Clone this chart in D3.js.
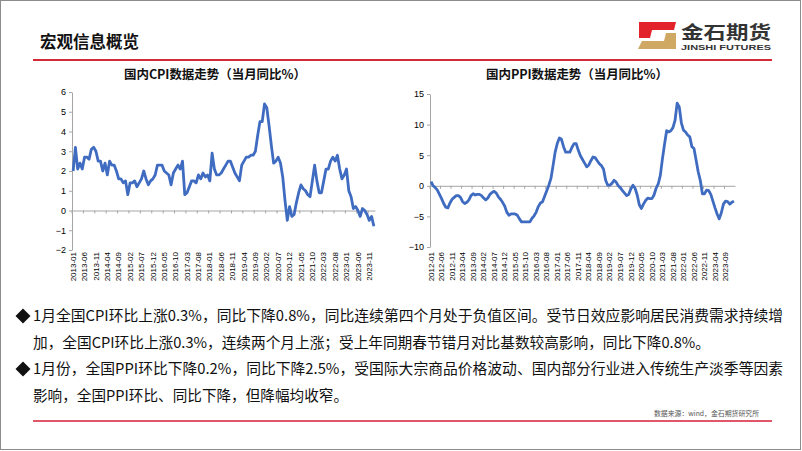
<!DOCTYPE html>
<html><head><meta charset="utf-8">
<script src="https://cdn.jsdelivr.net/npm/d3@7"></script>
<style>html,body{margin:0;padding:0;background:#fff;overflow:hidden}</style>
</head><body><svg id="c" width="802" height="451"></svg>
<script>
// ---------- DATA ----------
const cpiValues = [
  2.0,3.2,2.1,2.4,2.1,2.7,2.7,2.6,3.1,3.2,3.0,2.5,
  2.5,2.0,2.4,1.8,2.5,2.3,2.3,2.0,1.6,1.6,1.4,1.5,
  0.8,1.4,1.4,1.5,1.2,1.4,1.6,2.0,1.6,1.3,1.5,1.6,
  1.8,2.3,2.3,2.3,2.0,1.9,1.8,1.3,1.9,2.1,2.3,2.1,
  2.5,0.8,0.9,1.2,1.5,1.5,1.4,1.8,1.6,1.9,1.7,1.8,
  1.5,2.9,2.1,1.8,1.8,1.9,2.1,2.3,2.5,2.5,2.2,1.9,
  1.7,1.5,2.3,2.5,2.7,2.7,2.8,2.8,3.0,3.8,4.5,4.5,
  5.4,5.2,4.3,3.3,2.4,2.5,2.7,2.4,1.7,0.5,-0.5,0.2,
  -0.3,-0.2,0.4,0.9,1.3,1.1,1.0,0.8,0.7,1.5,2.3,1.5,
  0.9,0.9,1.5,2.1,2.1,2.5,2.7,2.5,2.8,2.1,1.6,1.8,
  2.1,1.0,0.7,0.1,0.2,0.0,-0.3,0.1,0.0,-0.2,-0.5,-0.3,
  -0.8
];
const ppiValues = [
  0.7,0.0,-0.3,-0.7,-1.4,-2.1,-2.9,-3.5,-3.6,-2.8,-2.2,-1.9,
  -1.6,-1.6,-1.9,-2.6,-2.9,-2.7,-2.3,-1.6,-1.3,-1.5,-1.4,-1.4,
  -1.6,-2.0,-2.3,-2.0,-1.4,-1.1,-0.9,-1.2,-1.8,-2.2,-2.7,-3.3,
  -4.3,-4.8,-4.6,-4.6,-4.6,-4.8,-5.4,-5.9,-5.9,-5.9,-5.9,-5.9,
  -5.3,-4.9,-4.3,-3.4,-2.8,-2.6,-1.7,-0.8,0.1,1.2,3.3,5.5,
  6.9,7.8,7.6,6.4,5.5,5.5,5.5,6.3,6.9,6.9,5.8,4.9,
  4.3,3.7,3.1,3.4,4.1,4.7,4.6,4.1,3.6,3.3,2.7,0.9,
  0.1,0.1,0.4,0.9,0.6,0.0,-0.3,-0.8,-1.2,-1.6,-1.4,-0.5,
  0.1,-0.4,-1.5,-3.1,-3.7,-3.0,-2.4,-2.0,-2.1,-2.1,-1.5,-0.4,
  0.3,1.7,4.4,6.8,9.0,8.8,9.0,9.5,10.7,13.5,12.9,10.3,
  9.1,8.8,8.3,8.0,6.4,6.1,4.2,2.3,0.9,-1.3,-1.3,-0.7,
  -0.8,-1.4,-2.5,-3.6,-4.6,-5.4,-4.4,-3.0,-2.5,-2.6,-3.0,-2.7,
  -2.5
];
function monthsFrom(y0, n) {
  const out = [];
  for (let i = 0; i < n; i++) {
    const y = y0 + Math.floor(i / 12), m = i % 12 + 1;
    out.push(y + "-" + String(m).padStart(2, "0"));
  }
  return out;
}
const cpiMonths = monthsFrom(2013, cpiValues.length);
const ppiMonths = monthsFrom(2012, ppiValues.length);
const cpiTickLabels = cpiMonths.filter((d, i) => i % 5 === 0);
const ppiTickLabels = ppiMonths.filter((d, i) => i % 5 === 0);
const cpiYTicks = [-2, -1, 0, 1, 2, 3, 4, 5, 6];
const ppiYTicks = [-10, -5, 0, 5, 10, 15];
const pageTitle = "宏观信息概览";
const cpiTitle = "国内CPI数据走势（当月同比%）";
const ppiTitle = "国内PPI数据走势（当月同比%）";
const bodyLines = [
  "1月全国CPI环比上涨0.3%，同比下降0.8%，同比连续第四个月处于负值区间。受节日效应影响居民消费需求持续增",
  "加，全国CPI环比上涨0.3%，连续两个月上涨；受上年同期春节错月对比基数较高影响，同比下降0.8%。",
  "1月份，全国PPI环比下降0.2%，同比下降2.5%，受国际大宗商品价格波动、国内部分行业进入传统生产淡季等因素",
  "影响，全国PPI环比、同比下降，但降幅均收窄。"
];
const bulletLines = [true, false, true, false];
const sourceText = "数据来源：wind，金石期货研究所";

// ---------- DRAW ----------
const svg = d3.select("#c");
const CJK = "'Noto Sans CJK SC','Noto Sans',sans-serif";
const LAT = "'Liberation Sans',Arial,sans-serif";

svg.append("rect").attr("x", 0.5).attr("y", 0.5).attr("width", 800).attr("height", 449)
  .attr("fill", "#fff").attr("stroke", "#8c8c8c");

svg.append("text").attr("x", 40).attr("y", 48).text(pageTitle)
  .attr("font-family", CJK).attr("font-weight", "bold").attr("font-size", 16.5)
  .attr("textLength", 99).attr("fill", "#111");

svg.append("line").attr("x1", 33).attr("x2", 772).attr("y1", 60).attr("y2", 60)
  .attr("stroke", "#d22a36").attr("stroke-width", 2);

// logo
const logo = svg.append("g");
logo.append("path").attr("d", "M639,22 L676,22 L674,30 L652,30 L650,38 L639,38 Z").attr("fill", "#e3232b");
logo.append("path").attr("d", "M642,41 L664,41 L666,33 L676,33 L676,49 L638,49 Z").attr("fill", "#cfa864");
logo.append("text").attr("x", 681).attr("y", 38.5).text("金石期货")
  .attr("font-family", CJK).attr("font-weight", "bold").attr("font-size", 18)
  .attr("textLength", 90).attr("lengthAdjust", "spacingAndGlyphs").attr("fill", "#333");
logo.append("text").attr("x", 681).attr("y", 49.5).text("JINSHI FUTURES")
  .attr("font-family", LAT).attr("font-weight", "bold").attr("font-size", 7)
  .attr("textLength", 90).attr("lengthAdjust", "spacingAndGlyphs").attr("fill", "#333");

function drawChart(cfg) {
  const g = svg.append("g");
  const x = d3.scaleBand().domain(cfg.months).range(cfg.xr);
  const y = d3.scaleLinear().domain(cfg.yd).range(cfg.yr);
  const bw = x.bandwidth();

  g.append("text").attr("x", cfg.titleX).attr("y", 78.5).attr("text-anchor", "middle")
    .text(cfg.title).attr("font-family", CJK).attr("font-weight", "bold").attr("font-size", 12.5)
    .attr("textLength", 182).attr("fill", "#111");

  const ya = g.append("g").attr("transform", `translate(${cfg.xr[0]},0)`)
    .call(d3.axisLeft(y).tickValues(cfg.yTicks).tickSize(3).tickSizeOuter(0).tickPadding(3));
  ya.selectAll("path,line").attr("stroke", "#a6a6a6");
  ya.selectAll("text").attr("font-family", LAT).attr("font-size", 9).attr("fill", "#000");

  const za = g.append("g").attr("transform", `translate(0,${y(0)})`)
    .call(d3.axisBottom(x).tickValues(cfg.ticks).tickSize(3).tickSizeOuter(0).tickFormat(""));
  za.selectAll("path,line").attr("stroke", "#a6a6a6");
  za.selectAll(".tick line").attr("transform", `translate(${-bw / 2},0)`);

  const la = g.append("g").attr("transform", `translate(0,${cfg.labelY})`)
    .call(d3.axisBottom(x).tickValues(cfg.ticks).tickSize(0));
  la.select(".domain").remove();
  la.selectAll("text").attr("transform", "rotate(-90)").attr("x", -2).attr("y", 0)
    .attr("dy", "0.33em").attr("text-anchor", "end")
    .attr("font-family", LAT).attr("font-size", 8).attr("fill", "#000");

  const line = d3.line().x((d, i) => x(cfg.months[i]) + bw / 2).y(d => y(d));
  g.append("path").datum(cfg.values).attr("d", line).attr("fill", "none")
    .attr("stroke", "#3f6cc0").attr("stroke-width", 2.8).attr("stroke-linejoin", "round");
}

drawChart({months: cpiMonths, values: cpiValues, ticks: cpiTickLabels, yTicks: cpiYTicks,
  xr: [72, 375], yd: [-2, 6], yr: [250, 92], labelY: 250, title: cpiTitle, titleX: 215});
drawChart({months: ppiMonths, values: ppiValues, ticks: ppiTickLabels, yTicks: ppiYTicks,
  xr: [430, 735], yd: [-10, 15], yr: [247, 94], labelY: 250, title: ppiTitle, titleX: 577});

const lineY = [321, 347.5, 374, 401];
const lineEnd = [783, 710, 783, 348];
bodyLines.forEach((t, i) => {
  if (bulletLines[i]) {
    const cy = lineY[i] - 5;
    svg.append("path").attr("d", `M23,${cy - 7.5} L30.5,${cy} L23,${cy + 7.5} L15.5,${cy} Z`).attr("fill", "#111");
  }
  svg.append("text").attr("x", 33).attr("y", lineY[i]).text(t)
    .attr("font-family", CJK).attr("font-size", 15).attr("fill", "#111")
    .attr("textLength", lineEnd[i] - 33).attr("lengthAdjust", "spacingAndGlyphs");
});

svg.append("text").attr("x", 654).attr("y", 415.5).text(sourceText)
  .attr("font-family", CJK).attr("font-size", 7).attr("fill", "#555")
  .attr("textLength", 105).attr("lengthAdjust", "spacingAndGlyphs");

svg.append("line").attr("x1", 33).attr("x2", 772).attr("y1", 421).attr("y2", 421)
  .attr("stroke", "#e0566a").attr("stroke-width", 2);
</script></body></html>
